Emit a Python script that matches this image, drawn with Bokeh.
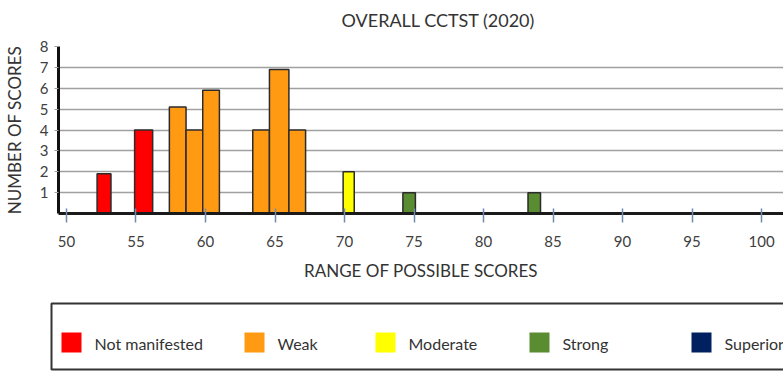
from bokeh.plotting import figure
from bokeh.models import Range1d, FixedTicker, ColumnDataSource, Title
from bokeh.layouts import column
from bokeh.embed import file_html
from bokeh.resources import INLINE
from bokeh.core.properties import value

# ---- data ----
title_text = "OVERALL CCTST (2020)"
x_label = "RANGE OF POSSIBLE SCORES"
y_label = "NUMBER OF SCORES"

bin_start = [52.2, 54.9, 57.4, 58.6, 59.8, 63.4, 64.6, 66.0, 69.9, 74.2, 83.2]
bin_end = [53.2, 56.2, 58.6, 59.8, 61.0, 64.6, 66.0, 67.2, 70.7, 75.1, 84.1]
counts = [1.9, 4, 5.1, 4, 5.9, 4, 6.9, 4, 2, 1, 1]
bin_level = ["Not manifested", "Not manifested", "Weak", "Weak", "Weak",
             "Weak", "Weak", "Weak", "Moderate", "Strong", "Strong"]

levels = ["Not manifested", "Weak", "Moderate", "Strong", "Superior"]
level_colors = ["#ff0000", "#ff9a12", "#ffff00", "#5a8c32", "#002060"]

x_ticks = [50, 55, 60, 65, 70, 75, 80, 85, 90, 95, 100]
y_ticks = [1, 2, 3, 4, 5, 6, 7, 8]

FONT = "Lato"
color_of = dict(zip(levels, level_colors))

# ---- main chart ----
p = figure(width=783, height=290,
           x_range=Range1d(49.425, 101.58), y_range=Range1d(0, 8),
           output_backend="svg", toolbar_location=None,
           min_border_left=57, min_border_right=0,
           min_border_top=46, min_border_bottom=77,
           outline_line_color=None)
p.frame_align = False

p.title.text = title_text
p.title.align = "left"
p.title.offset = 283
p.title.standoff = 8
p.title.text_font = FONT
p.title.text_font_size = "18px"
p.title.text_font_style = "normal"
p.title.text_color = "#333333"

# small spacer between the title and the plot frame
p.add_layout(Title(text=" ", text_font_size="2px", standoff=8), "above")

src = ColumnDataSource(dict(left=bin_start, right=bin_end, top=counts,
                            bottom=[0] * len(counts),
                            color=[color_of[l] for l in bin_level]))
p.quad(left="left", right="right", top="top", bottom="bottom", source=src,
       fill_color="color", line_color="#2b2b2b", line_width=1.5)

# axes
p.xaxis.ticker = FixedTicker(ticks=x_ticks)
p.xaxis.minor_tick_line_color = None
p.xaxis.major_tick_in = 5
p.xaxis.major_tick_out = 9
p.xaxis.major_tick_line_color = "#6f8cae"
p.xaxis.major_tick_line_width = 1.5
p.xaxis.axis_line_color = "#1a1a1a"
p.xaxis.axis_line_width = 3
p.xaxis.major_label_text_font = FONT
p.xaxis.major_label_text_font_size = "15px"
p.xaxis.major_label_text_color = "#404040"
p.xaxis.major_label_standoff = 13
p.xaxis.axis_label = x_label
p.xaxis.axis_label_text_font = FONT
p.xaxis.axis_label_text_font_size = "17px"
p.xaxis.axis_label_text_font_style = "normal"
p.xaxis.axis_label_text_color = "#333333"
p.xaxis.axis_label_standoff = 10

p.yaxis.ticker = FixedTicker(ticks=y_ticks)
p.yaxis.minor_tick_line_color = None
p.yaxis.major_tick_in = 0
p.yaxis.major_tick_out = 4
p.yaxis.major_tick_line_color = "#a0a0a0"
p.yaxis.axis_line_color = "#111111"
p.yaxis.axis_line_width = 3
p.yaxis.major_label_text_font = FONT
p.yaxis.major_label_text_font_size = "15px"
p.yaxis.major_label_text_color = "#404040"
p.yaxis.major_label_standoff = 6
p.yaxis.axis_label = y_label
p.yaxis.axis_label_text_font = FONT
p.yaxis.axis_label_text_font_size = "17px"
p.yaxis.axis_label_text_font_style = "normal"
p.yaxis.axis_label_text_color = "#333333"
p.yaxis.axis_label_standoff = 12

p.xgrid.grid_line_color = None
p.ygrid.ticker = FixedTicker(ticks=y_ticks)
p.ygrid.grid_line_color = "#a0a0a0"
p.ygrid.grid_line_width = 1.5

# ---- legend panel ----
lg = figure(width=783, height=83, x_range=Range1d(0, 783), y_range=Range1d(83, 0),
            output_backend="svg", toolbar_location=None, min_border=0,
            x_axis_type=None, y_axis_type=None, outline_line_color=None)
lg.frame_align = False
lg.grid.visible = False

lg.quad(left=[51], right=[800], top=[13], bottom=[79],
        fill_color=None, line_color="#333333", line_width=2)

swatch_left = [61, 244, 375, 529, 691]
text_gap = 33
lg.rect(x=[s + 10 for s in swatch_left], y=[52] * 5, width=20, height=20,
        fill_color=level_colors, line_color=None)
lg.text(x=[s + text_gap for s in swatch_left], y=[53] * 5, text=levels,
        text_baseline="middle", text_align="left",
        text_font=value(FONT), text_font_size="16px", text_color="#333333")

layout = column(p, lg, spacing=0)
open("out.html", "w").write(file_html(layout, INLINE))
